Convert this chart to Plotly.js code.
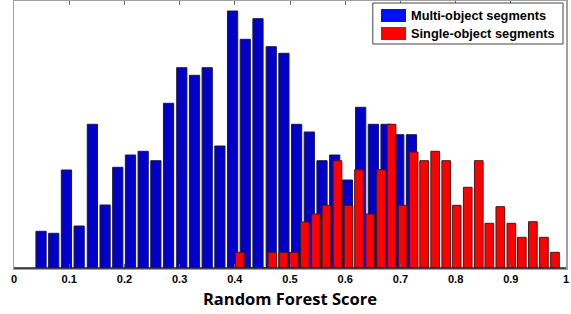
<!DOCTYPE html>
<html>
<head>
<meta charset="utf-8">
<script src="https://cdn.plot.ly/plotly-3.0.1.min.js"></script>
<style>html,body{margin:0;padding:0;background:#fff;}#chart{width:571px;height:314px;}</style>
</head>
<body>
<div id="chart"></div>
<script>
// Bin centres (Random Forest Score) and bar heights (relative frequency, arbitrary units)
const multiNames = "Multi-object segments";
const singleNames = "Single-object segments";
const multiX = [0.049,0.072,0.095,0.118,0.142,0.165,0.188,0.211,0.234,0.257,0.280,0.304,0.327,0.350,0.373,0.396,0.419,0.442,0.466,0.489,0.512,0.535,0.558,0.581,0.604,0.628,0.651,0.674,0.697,0.720];
const multiY = [36.7,34.7,98,42,143.7,63,100.7,113,116.7,107.3,164.7,200.3,192.7,200.3,122,257,228.7,249.3,221.3,214.7,143.7,136,107.3,113,88,160.7,143.7,143.7,133.3,133.3];
const singleX = [0.409,0.429,0.448,0.468,0.488,0.507,0.527,0.547,0.566,0.586,0.606,0.625,0.645,0.665,0.684,0.704,0.724,0.743,0.763,0.783,0.802,0.822,0.842,0.861,0.881,0.901,0.920,0.940,0.960,0.980];
const singleY = [15.7,0,0,15.7,15.7,15.7,46,54,62.7,107.3,62.7,98.3,54,98.3,143.7,62.7,116,107.3,116.7,107.3,62.7,80.7,107.3,44.7,61.3,44.7,30.7,46.3,30.7,15.7];
const tickVals = [0,0.1,0.2,0.3,0.4,0.5,0.6,0.7,0.8,0.9,1];
const tickText = ["0","0.1","0.2","0.3","0.4","0.5","0.6","0.7","0.8","0.9","1"];
const xTitle = "Random Forest Score";

const blue = "#0000c8", red = "#ff0000";
const traces = [
  {type:"bar", x:multiX, y:multiY, name:multiNames, width:0.0185,
   marker:{color:blue, line:{color:"#1a1a40", width:1}}, hoverinfo:"x+y"},
  {type:"bar", x:singleX, y:singleY, name:singleNames, width:0.0157,
   marker:{color:red, line:{color:"#401a1a", width:1}}, hoverinfo:"x+y"}
];

const frame = "#a0a0a0";
const layout = {
  width:571, height:314,
  margin:{l:14, r:5, t:1, b:46, pad:0},
  paper_bgcolor:"#fff", plot_bgcolor:"#fff",
  barmode:"overlay", showlegend:false,
  xaxis:{range:[0,1], tickmode:"array", tickvals:tickVals, ticktext:tickText,
    ticks:"inside", ticklen:4, tickcolor:"#666", showline:true, linecolor:frame, linewidth:1.5, mirror:"ticks",
    showgrid:false, zeroline:false, fixedrange:true,
    tickfont:{family:"Liberation Sans, Arial, sans-serif", size:11, color:"#000", weight:"bold"},
    title:{text:xTitle, standoff:9, font:{family:"Open Sans, sans-serif", size:16.5, color:"#000", weight:"bold"}},
    automargin:false},
  yaxis:{range:[0,267], showticklabels:false, ticks:"", showline:true, linecolor:frame, linewidth:1.5, mirror:true,
    showgrid:false, zeroline:false, fixedrange:true},
  shapes:[
    {type:"line", xref:"paper", yref:"paper", x0:0, x1:1, y0:0, y1:0, line:{color:"#222", width:1.5}},
    {type:"rect", xref:"paper", yref:"paper", x0:0.650, x1:0.9946, y0:0.839, y1:0.9925, fillcolor:"#fff", line:{color:"#444", width:1}},
    {type:"rect", xref:"paper", yref:"paper", x0:0.6649, x1:0.7101, y0:0.9213, y1:0.9700, fillcolor:"#0010ff", line:{color:"#0010ff", width:0}},
    {type:"rect", xref:"paper", yref:"paper", x0:0.6649, x1:0.7101, y0:0.8539, y1:0.9026, fillcolor:"#ff0000", line:{color:"#ff0000", width:0}}
  ],
  annotations:[
    {xref:"paper", yref:"paper", x:0.7156, y:0.9457, xanchor:"left", yanchor:"middle", showarrow:false, text:multiNames,
     font:{family:"Liberation Sans, Arial, sans-serif", size:12.8, color:"#000", weight:"bold"}},
    {xref:"paper", yref:"paper", x:0.7156, y:0.8783, xanchor:"left", yanchor:"middle", showarrow:false, text:singleNames,
     font:{family:"Liberation Sans, Arial, sans-serif", size:12.8, color:"#000", weight:"bold"}}
  ]
};
Plotly.newPlot("chart", traces, layout, {staticPlot:true, displayModeBar:false});
</script>
</body>
</html>
